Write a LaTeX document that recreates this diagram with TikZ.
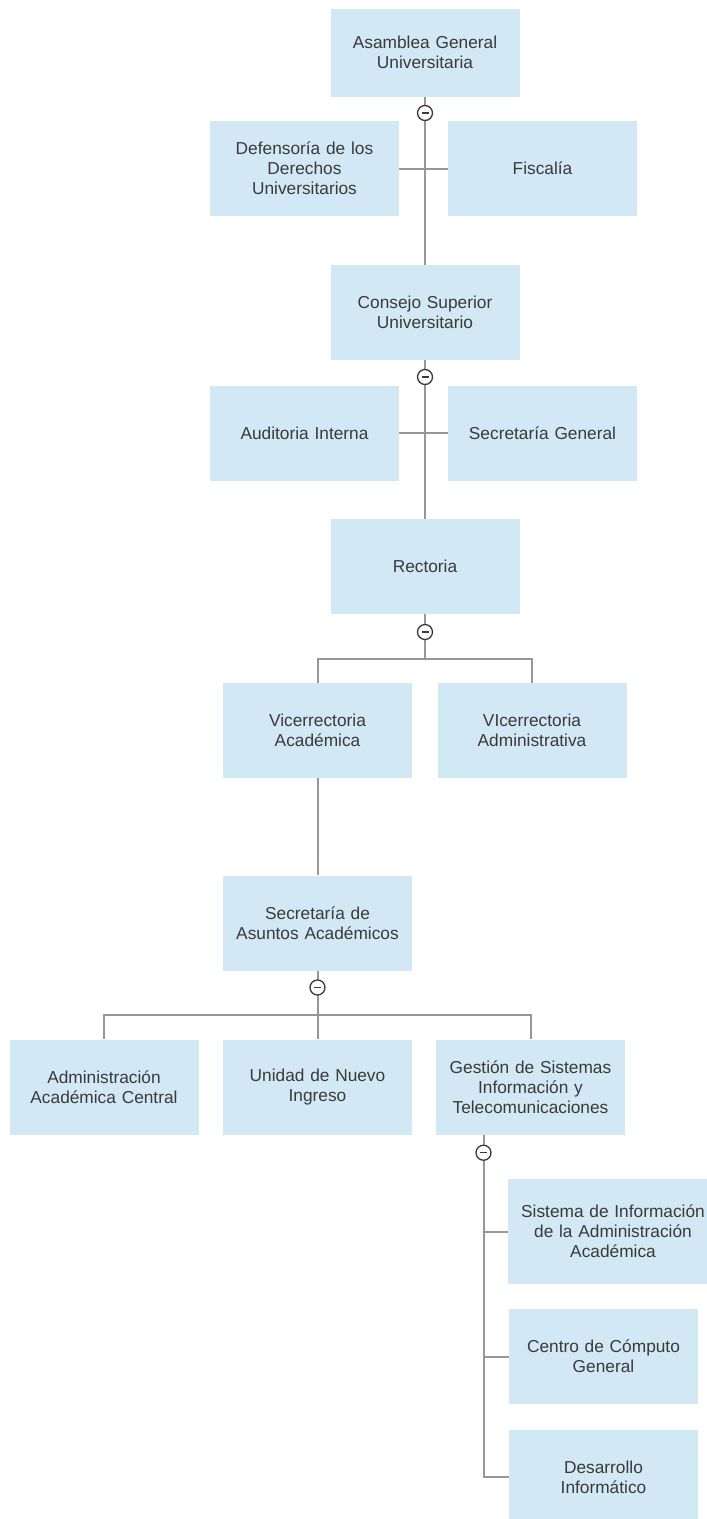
\documentclass[tikz,border=0pt]{standalone}
\usepackage{fontspec}
\setmainfont{Liberation Sans}
\usetikzlibrary{positioning}
\definecolor{boxblue}{HTML}{D3E8F5}
\definecolor{linkgray}{HTML}{979797}
\definecolor{inkgray}{HTML}{3A3A3A}
\tikzset{
	unit/.style={fill=boxblue, text=inkgray, minimum width=189pt, minimum height=95pt, inner sep=0pt, text width=186pt, align=center, font=\fontsize{17.3}{20}\selectfont},
	link/.style={draw=linkgray, line width=2pt},
	toggle/.style={circle, draw=inkgray, fill=white, line width=1.3pt, minimum size=15pt, inner sep=0pt},
}

\begin{document}
\begin{tikzpicture}[x=1pt, y=-1pt]
	\path[fill=white, use as bounding box] (0,0) rectangle (707,1519);
	\node[unit, minimum height=88pt] (asam) at (425,52.5) {Asamblea General\\Universitaria};
	\node[unit] (defe) at (304.5,168.5) {Defensoría de los\\Derechos\\Universitarios};
	\node[unit] (fisc) at (542.5,168.5) {Fiscalía};
	\node[unit] (cons) at (425,312.5) {Consejo Superior\\Universitario};
	\node[unit] (audi) at (304.5,433) {Auditoria Interna};
	\node[unit] (secg) at (542.5,433) {Secretaría General};
	\node[unit] (rect) at (425,566.5) {Rectoria};
	\node[unit] (vacad) at (317.5,730.5) {Vicerrectoria\\Académica};
	\node[unit] (vadm) at (532,730.5) {VIcerrectoria\\Administrativa};
	\node[unit] (sasu) at (317.5,923) {Secretaría de\\Asuntos Académicos};
	\node[unit] (aacc) at (104,1087) {Administración\\Académica Central};
	\node[unit] (unin) at (317.5,1087) {Unidad de Nuevo\\Ingreso};
	\node[unit] (gsit) at (530.5,1087) {Gestión de Sistemas\\Información y\\Telecomunicaciones};
	\node[unit, minimum width=210pt, minimum height=105pt, text width=205pt] (siaa) at (613,1231.5) {Sistema de Información\\de la Administración\\Académica};
	\node[unit] (ccg) at (603.5,1356.5) {Centro de Cómputo\\General};
	\node[unit] (dinf) at (603.5,1477) {Desarrollo\\Informático};
	\path[link] (asam) edge (cons);
	\path[link] (defe) edge (fisc);
	\path[link] (cons) edge (rect);
	\path[link] (audi) edge (secg);
	\draw[link] (rect.south) -- ++(0,45) -| (vacad.north);
	\draw[link] (rect.south) -- ++(0,45) -| (vadm.north);
	\path[link] (vacad) edge (sasu);
	\draw[link] (sasu.south) -- ++(0,44) -| (aacc.north);
	\draw[link] (sasu.south) -- (unin.north);
	\draw[link] (sasu.south) -- ++(0,44) -| (gsit.north);
	\coordinate (gtrunk) at ([xshift=-47pt]gsit.south);
	\draw[link] (gtrunk) |- (siaa.west);
	\draw[link] (gtrunk) |- (ccg.west);
	\draw[link] (gtrunk) |- (dinf.west);
	\node[toggle] (t1) at (425,113) {};
	\node[toggle] (t2) at (425,377) {};
	\node[toggle] (t3) at (425,632) {};
	\node[toggle] (t4) at (317.5,987.5) {};
	\node[toggle] (t5) at ([yshift=-18pt]gtrunk) {};
	\foreach \t in {t1,t2,t3,t4,t5}
		\draw[inkgray, line width=1.3pt] ([xshift=-3.5pt]\t.center) -- ([xshift=3.5pt]\t.center);
\end{tikzpicture}
\end{document}
